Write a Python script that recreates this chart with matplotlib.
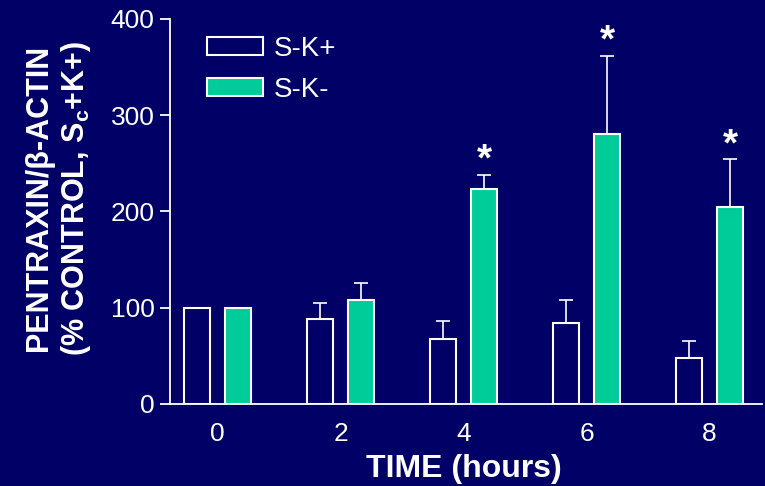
import numpy as np
import matplotlib.pyplot as plt

plt.rcParams['font.family'] = ['Liberation Sans', 'DejaVu Sans']
plt.rcParams['mathtext.fontset'] = 'custom'
plt.rcParams['mathtext.rm'] = 'Liberation Sans'
plt.rcParams['mathtext.bf'] = 'Liberation Sans:bold'

fondo = '#000066'
verde = '#00cc99'

horas = [0, 2, 4, 6, 8]
sk_mas = [100, 88, 67, 84, 48]
sk_mas_err = [0, 17, 19, 24, 17]
sk_menos = [100, 108, 223, 280, 205]
sk_menos_err = [0, 18, 15, 82, 49]
significativo = [False, False, True, True, True]

x = np.array(horas, dtype=float)
ancho = 0.42
desp = 0.335

fig = plt.figure(figsize=(7.65, 4.86), dpi=100, facecolor=fondo)
ax = fig.add_axes([0.222, 0.169, 0.774, 0.792], facecolor=fondo)

b1 = ax.bar(x - desp, sk_mas, ancho, color=fondo, edgecolor='white', linewidth=1.5,
            label='S-K+', zorder=3)
b2 = ax.bar(x + desp, sk_menos, ancho, color=verde, edgecolor='white', linewidth=1.5,
            label='S-K-', zorder=3)

# solo la mitad superior del error
ax.errorbar(x - desp, sk_mas, yerr=[np.zeros(5), sk_mas_err], fmt='none',
            ecolor='white', elinewidth=1.2, capsize=4.8, capthick=1.2, zorder=2)
ax.errorbar(x + desp, sk_menos, yerr=[np.zeros(5), sk_menos_err], fmt='none',
            ecolor='white', elinewidth=1.2, capsize=4.8, capthick=1.2, zorder=2)

for xi, v, e, s in zip(x, sk_menos, sk_menos_err, significativo):
    if s:
        ax.text(xi + desp, v + e - 4, '*', color='white', fontsize=28,
                fontweight='bold', ha='center', va='bottom')

ax.set_xlim(-0.78, 8.85)
ax.set_ylim(0, 400)
ax.set_xticks(horas)
ax.set_yticks([0, 100, 200, 300, 400])

for lado in ['top', 'right']:
    ax.spines[lado].set_visible(False)
for lado in ['left', 'bottom']:
    ax.spines[lado].set_color('white')
    ax.spines[lado].set_linewidth(1.3)

ax.tick_params(axis='y', colors='white', labelsize=19, length=7, width=1.3,
               direction='out', pad=4)
ax.tick_params(axis='x', colors='white', labelsize=19, length=0, pad=13)

ax.set_xlabel('TIME (hours)', color='white', fontsize=23, fontweight='bold')
ax.xaxis.set_label_coords(0.496, -0.13)
ax.set_ylabel('PENTRAXIN/β-ACTIN\n(% CONTROL, S$_\\mathbf{c}$+K+)', color='white',
              fontsize=22, fontweight='bold', linespacing=1.2)
ax.yaxis.set_label_coords(-0.13, 0.535)

ley = ax.legend(loc='upper left', bbox_to_anchor=(0.035, 1.0), frameon=False,
                fontsize=20, handlelength=2.0, handleheight=0.65,
                labelspacing=0.55, handletextpad=0.4, borderaxespad=0.2)
for t in ley.get_texts():
    t.set_color('white')

plt.savefig('out.png', dpi=100, facecolor=fondo)
